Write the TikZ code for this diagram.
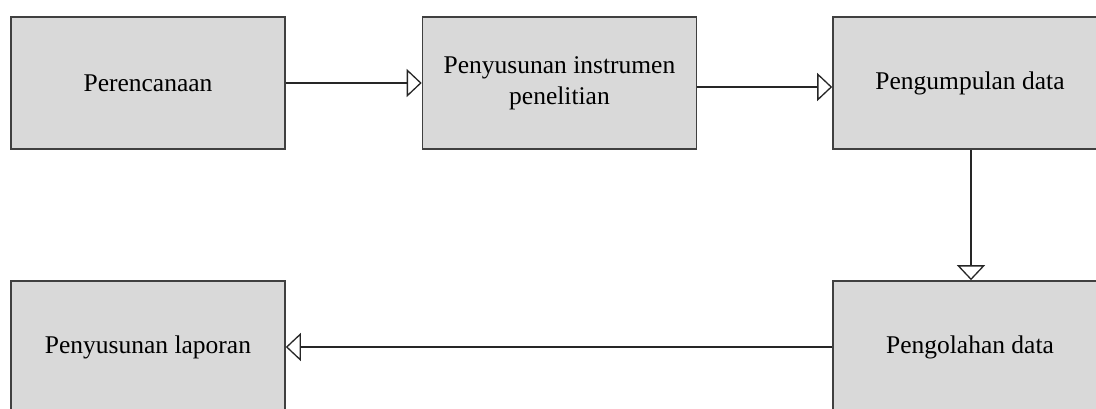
\documentclass[tikz,border=0pt]{standalone}
\usepackage{fontspec}
\setmainfont{Liberation Serif}
\usetikzlibrary{arrows.meta}
\tikzset{
  stepbox/.style={draw=black!75, line width=1.6pt, fill=black!15,
    minimum width=274pt, minimum height=132pt, inner sep=0pt,
    align=center, font=\fontsize{25.5}{31}\selectfont},
  flow/.style={draw=black!85, line width=1.4pt,
    -{Triangle[open, fill=white, length=15pt, width=28pt, line width=1.3pt]}},
}
\begin{document}
\begin{tikzpicture}[x=1pt, y=-1pt]
\useasboundingbox (0,0) rectangle (1096,408);
\clip (0,0) rectangle (1096,408);
\node[stepbox] (b1) at (148,83) {Perencanaan};
\node[stepbox] (b2) at (559.5,83) {Penyusunan instrumen\\penelitian};
\node[stepbox] (b3) at (970,83) {Pengumpulan data};
\node[stepbox] (b4) at (970,347) {Pengolahan data};
\node[stepbox] (b5) at (148,347) {Penyusunan laporan};
\draw[flow, line width=2.8pt, -{Triangle[open, fill=white, length=15pt, width=28pt, line width=1.3pt]}] (b1.east) -- (b2.west);
\draw[flow] ([yshift=-4pt]b2.east) -- ([yshift=-4pt]b3.west);
\draw[flow] ([xshift=1pt]b3.south) -- ([xshift=1pt]b4.north);
\draw[flow] (b4.west) -- (b5.east);
\end{tikzpicture}
\end{document}
